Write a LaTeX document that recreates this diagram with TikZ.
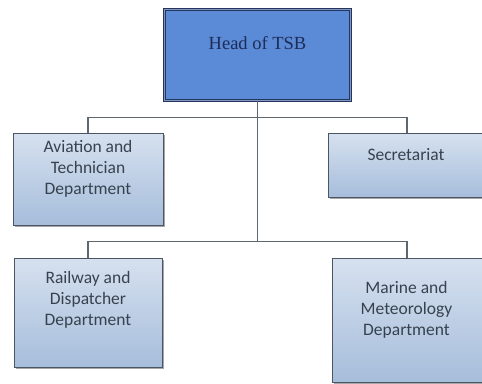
\documentclass[tikz,border=0pt]{standalone}
\usepackage{fontspec}
\setmainfont{Liberation Serif}
\newfontfamily\deptfont{Carlito}
\usetikzlibrary{positioning,calc,shadows}
\usepackage{xcolor}

\definecolor{headfill}{HTML}{5B8AD6}
\definecolor{headline}{HTML}{24355E}
\definecolor{headgap}{HTML}{8296C2}
\definecolor{headtext}{HTML}{1D2D58}
\definecolor{depttop}{HTML}{D6E1EF}
\definecolor{deptbottom}{HTML}{A6BDDB}
\definecolor{deptline}{HTML}{4B5563}
\definecolor{depttext}{HTML}{38424F}
\definecolor{linkgray}{HTML}{5E6670}

\begin{document}
\begin{tikzpicture}[
    x=1pt, y=-1pt,
    head/.style={rectangle, draw=headline, line width=0.9pt, double=headgap, double distance=1.6pt, fill=headfill},
    dept/.style={rectangle, draw=deptline, line width=0.9pt, top color=depttop, bottom color=deptbottom,
        drop shadow={shadow xshift=1.5pt, shadow yshift=-1.5pt, opacity=0.35, fill=black}},
    headlabel/.style={inner sep=0pt, anchor=north, text=headtext, font=\fontsize{18.5}{22}\selectfont},
    deptlabel/.style={inner sep=0pt, anchor=north, align=center, text=depttext, font=\deptfont\fontsize{17.5}{21}\selectfont},
    link/.style={draw=linkgray, line width=1.1pt}
]
\useasboundingbox (0,0) rectangle (482,383);

% boxes
\node[head, minimum width=186pt, minimum height=91pt] (tsb) at (257.5,55) {};
\node[dept, minimum width=150pt, minimum height=92pt] (aviation) at (88,179) {};
\node[dept, minimum width=158pt, minimum height=64pt] (secretariat) at (407,165) {};
\node[dept, minimum width=148pt, minimum height=109pt] (railway) at (88,312.5) {};
\node[dept, minimum width=150pt, minimum height=124pt] (marine) at (407,320) {};

% texts
\node[headlabel] (tsbtext) at (257.5,36) {Head of TSB};
\node[deptlabel] (aviationtext) at (88,140.5) {Aviation and\\Technician\\Department};
\node[deptlabel] (secretariattext) at (406,148) {Secretariat};
\node[deptlabel] (railwaytext) at (88,271.5) {Railway and\\Dispatcher\\Department};
\node[deptlabel] (marinetext) at (406.5,281.5) {Marine and\\Meteorology\\Department};

% connectors
\coordinate (row2) at ($(railway.north)+(0,-16)$);
\draw[link] (tsb.south) -- (tsb.south |- row2);
\draw[link] (aviation.north) -- ++(0,-15) -| (secretariat.north);
\draw[link] (railway.north) -- (row2) -| (marine.north);

\end{tikzpicture}
\end{document}
